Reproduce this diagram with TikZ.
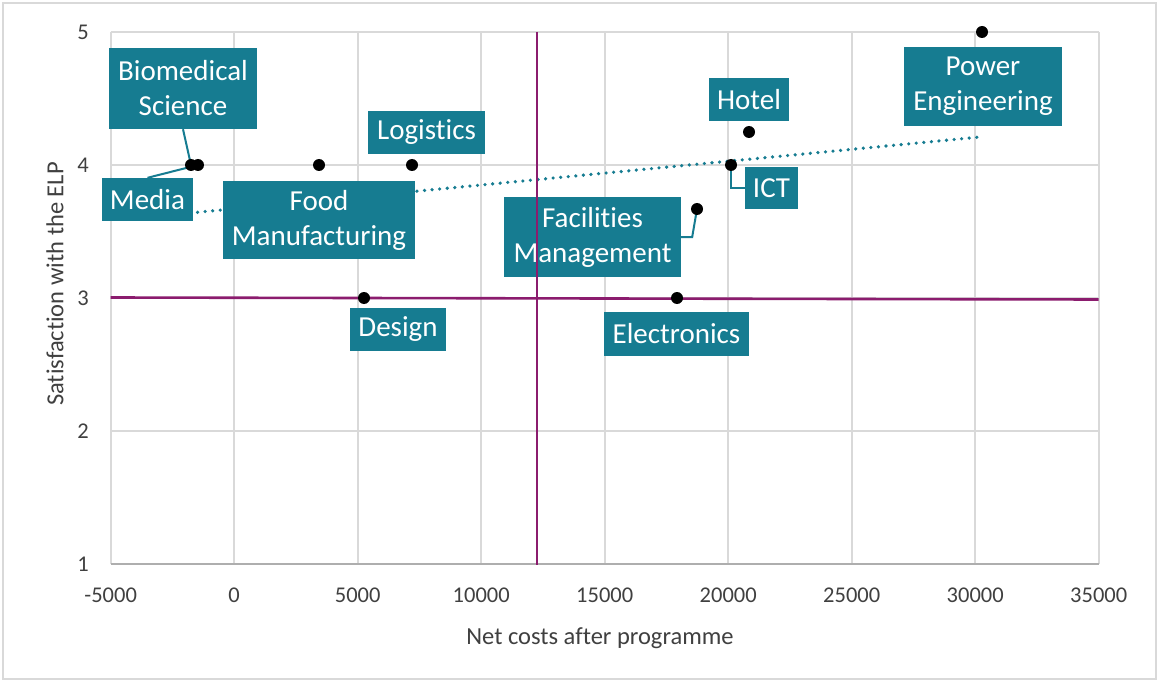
\documentclass[tikz,border=0pt]{standalone}
\usepackage{fontspec}
\setmainfont{Carlito}[Ligatures=NoCommon]
\definecolor{tealbox}{RGB}{22,124,145}
\definecolor{purp}{RGB}{139,28,110}
\definecolor{gridc}{RGB}{217,217,217}
\definecolor{txtc}{RGB}{64,64,64}
\tikzset{
  lbl/.style={fill=tealbox, text=white, inner sep=0pt, align=center,
              font=\fontsize{29}{35}\selectfont},
  datadot/.style={circle, fill=black, inner sep=0pt, minimum size=12pt},
  leader/.style={draw=tealbox, line width=2pt},
  gridline/.style={draw=gridc, line width=1.8pt},
  ticklbl/.style={text=txtc, font=\fontsize{22.5}{26}\selectfont, inner sep=0pt},
  axtitle/.style={text=txtc, font=\fontsize{24.5}{28}\selectfont, inner sep=0pt},
  trend/.style={draw=tealbox, line width=3.6pt, line cap=round, dash pattern=on 0pt off 7.6pt},
  quad/.style={draw=purp},
}
\begin{document}
\begin{tikzpicture}[x=1pt,y=-1pt]
\useasboundingbox (0,0) rectangle (1160,682);
\fill[white] (0,0) rectangle (1160,682);
\draw[gridc, line width=1.5pt] (3,3) rectangle (1156,679);

% grid
\foreach \i in {0,...,8} {
  \draw[gridline] (110.7+123.5*\i,32) -- (110.7+123.5*\i,564);
}
\foreach \j in {0,...,4} {
  \draw[gridline] (110.7,564-133*\j) -- (1098.7,564-133*\j);
}
\draw[draw=gridc!80!black, line width=1.8pt] (110.7,564) -- (1098.7,564);

% tick labels
\foreach \v [count=\i from 0] in {-5000,0,5000,10000,15000,20000,25000,30000,35000} {
  \node[ticklbl] (xt\i) at (110.7+123.5*\i,595) {\v};
}
\foreach \v [count=\j from 0] in {1,2,3,4,5} {
  \node[ticklbl, anchor=east] (yt\j) at (89,564-133*\j) {\v};
}

% axis titles
\node[axtitle] (xtitle) at (600,638) {Net costs after programme};
\node[axtitle, rotate=90] (ytitle) at (55,284) {Satisfaction with the ELP};

% trend line
\coordinate (t1) at (190,213);
\coordinate (t2) at (980,137);
\draw[trend] (t1) -- (t2);

% data points coordinates
\coordinate (pA) at (191,165);
\coordinate (pB) at (198,165);
\coordinate (pFood) at (319,165);
\coordinate (pLog) at (412,165);
\coordinate (pDes) at (364,298);
\coordinate (pElec) at (677,298);
\coordinate (pFac) at (697,209);
\coordinate (pICT) at (731,165);
\coordinate (pHotel) at (749,132);
\coordinate (pPow) at (982,32);

% labels
\node[lbl, minimum width=148pt, minimum height=81pt] (bio) at (183,88.5) {Biomedical\\Science};
\node[lbl, minimum width=91pt, minimum height=43pt] (media) at (147.5,199.5) {Media};
\node[lbl, minimum width=192pt, minimum height=78pt] (food) at (319,220) {Food\\Manufacturing};
\node[lbl, minimum width=117pt, minimum height=43pt] (log) at (426.5,132.5) {Logistics};
\node[lbl, minimum width=96pt, minimum height=43pt] (des) at (398,329.5) {Design};
\node[lbl, minimum width=145pt, minimum height=44pt] (elec) at (676.5,334) {Electronics};
\node[lbl, minimum width=177pt, minimum height=80pt] (fac) at (592.5,237) {Facilities\\Management};
\node[lbl, minimum width=80pt, minimum height=43pt] (hotel) at (749,99.5) {Hotel};
\node[lbl, minimum width=53pt, minimum height=42pt] (ict) at (771.5,188) {ICT};
\node[lbl, minimum width=158pt, minimum height=79pt] (pow) at (983,86.5) {Power\\Engineering};

% leader lines
\draw[leader] (bio.south) -- (pA);
\draw[leader] (media.north) -- (pB);
\draw[leader] (pICT) |- (ict.west);
\draw[leader] (fac.east) -- ++(11,0) -- (pFac);

% quadrant lines
\coordinate (h1) at (110.7,297.5);
\coordinate (h2) at (1098.7,299.5);
\coordinate (v1) at (537,32);
\coordinate (v2) at (537,565);
\draw[quad, line width=2.6pt] (h1) -- (h2);
\draw[quad, line width=1.8pt] (v1) -- (v2);

% dots
\foreach \p in {pA,pB,pFood,pLog,pDes,pElec,pFac,pICT,pHotel,pPow} {
  \node[datadot] (d\p) at (\p) {};
}
\end{tikzpicture}
\end{document}
